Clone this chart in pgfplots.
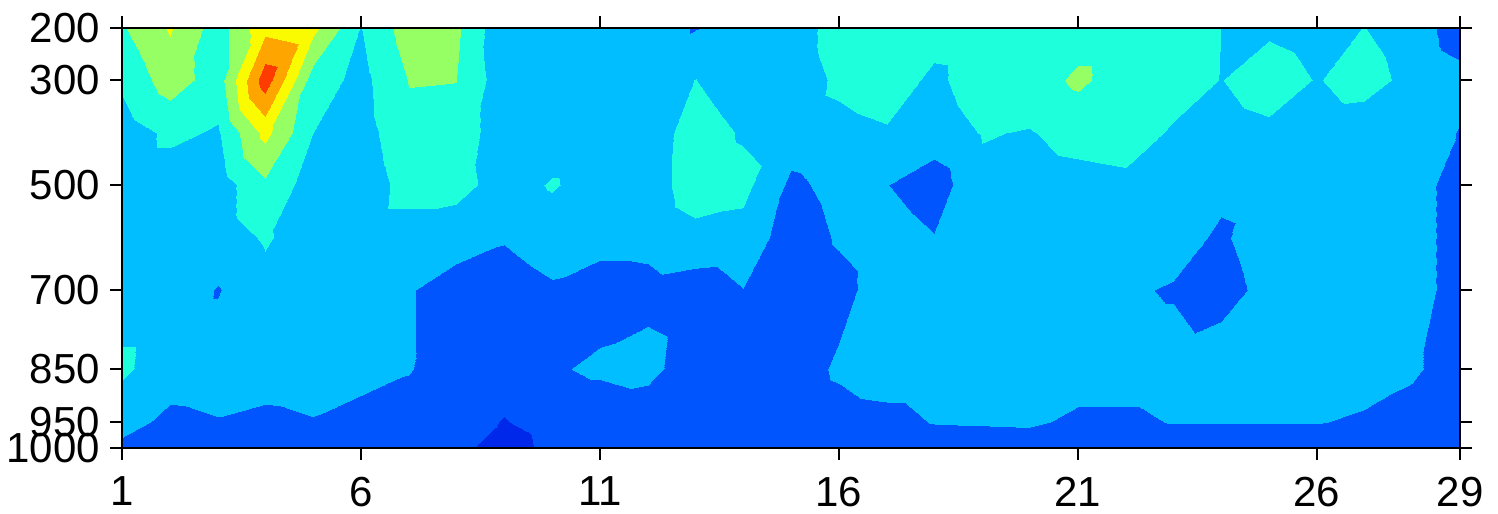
\documentclass[border=0pt]{standalone}
\usepackage{pgfplots}
\pgfplotsset{compat=1.18}
\usepackage{fontspec}
\setmainfont{Liberation Sans}
\pgfplotsset{colormap={cls}{
 rgb255=(0,40,235) rgb255=(0,85,255) rgb255=(0,190,255) rgb255=(30,255,220)
 rgb255=(150,255,100) rgb255=(250,250,0) rgb255=(255,165,0) rgb255=(255,60,0)}}
\begin{document}
\begin{tikzpicture}
\begin{axis}[
  scale only axis, width=669bp, height=210bp,
  xmin=1, xmax=29, ymin=200, ymax=1000, y dir=reverse,
  enlargelimits=false, axis on top,
  xtick={1,6,11,16,21,26,29}, xticklabels={1,6,11,16,21,26,29},
  ytick={200,300,500,700,850,950,1000}, yticklabels={200,300,500,700,850,950,1000},
  tick align=outside, tick pos=both, major tick length=6bp,
  every tick/.style={black, line width=1bp},
  axis line style={line width=1bp},
  tick label style={font=\fontsize{21bp}{25bp}\selectfont},
  xticklabel shift=5bp, yticklabel shift=1.5bp,
  colormap name=cls, colormap access=piecewise constant,
  point meta min=0, point meta max=8,
]
\addplot[surf, shader=interp, mesh/cols=29, point meta=explicit] coordinates {
(1,200)[3.9] (2,200)[5.1] (3,200)[3.5] (4,200)[5.7] (5,200)[5.3] (6,200)[2.98] (7,200)[4.5] (8,200)[4.2] (9,200)[2.2] (10,200)[2.4] (11,200)[2.4] (12,200)[2.4] (13,200)[1.95] (14,200)[2.4] (15,200)[2.4] (16,200)[3.5] (17,200)[3.6] (18,200)[3.4] (19,200)[3.5] (20,200)[3.5] (21,200)[3.5] (22,200)[3.5] (23,200)[3.4] (24,200)[3.0] (25,200)[2.85] (26,200)[2.6] (27,200)[3.02] (28,200)[2.5] (29,200)[1.5]
(1,300)[3.2] (2,300)[4.5] (3,300)[3.5] (4,300)[7.6] (5,300)[3.5] (6,300)[2.7] (7,300)[4.05] (8,300)[4.02] (9,300)[2.4] (10,300)[2.4] (11,300)[2.4] (12,300)[2.4] (13,300)[3.02] (14,300)[2.4] (15,300)[2.4] (16,300)[3.2] (17,300)[3.5] (18,300)[2.8] (19,300)[3.5] (20,300)[3.5] (21,300)[4.2] (22,300)[3.5] (23,300)[3.4] (24,300)[2.98] (25,300)[3.45] (26,300)[2.95] (27,300)[3.4] (28,300)[2.7] (29,300)[2.3]
(1,400)[2.5] (2,400)[3.2] (3,400)[2.9] (4,400)[5.3] (5,400)[3.0] (6,400)[2.6] (7,400)[3.7] (8,400)[3.6] (9,400)[2.4] (10,400)[2.4] (11,400)[2.4] (12,400)[2.4] (13,400)[3.5] (14,400)[2.9] (15,400)[2.5] (16,400)[2.7] (17,400)[2.9] (18,400)[2.5] (19,400)[3.05] (20,400)[2.95] (21,400)[3.3] (22,400)[3.4] (23,400)[2.9] (24,400)[2.6] (25,400)[2.8] (26,400)[2.5] (27,400)[2.4] (28,400)[2.5] (29,400)[1.95]
(1,500)[2.5] (2,500)[2.5] (3,500)[2.5] (4,500)[3.8] (5,500)[2.5] (6,500)[2.4] (7,500)[3.4] (8,500)[3.4] (9,500)[2.5] (10,500)[3.1] (11,500)[2.5] (12,500)[2.5] (13,500)[3.5] (14,500)[3.3] (15,500)[1.8] (16,500)[2.3] (17,500)[2.02] (18,500)[1.5] (19,500)[2.8] (20,500)[2.6] (21,500)[2.7] (22,500)[2.8] (23,500)[2.6] (24,500)[2.3] (25,500)[2.5] (26,500)[2.5] (27,500)[2.5] (28,500)[2.5] (29,500)[1.5]
(1,600)[2.5] (2,600)[2.5] (3,600)[2.5] (4,600)[3.1] (5,600)[2.5] (6,600)[2.5] (7,600)[2.5] (8,600)[2.3] (9,600)[2.06] (10,600)[2.4] (11,600)[2.3] (12,600)[2.3] (13,600)[2.7] (14,600)[2.6] (15,600)[1.5] (16,600)[2.1] (17,600)[2.5] (18,600)[2.05] (19,600)[2.5] (20,600)[2.5] (21,600)[2.5] (22,600)[2.5] (23,600)[2.5] (24,600)[1.8] (25,600)[2.8] (26,600)[2.5] (27,600)[2.5] (28,600)[2.5] (29,600)[1.5]
(1,700)[2.5] (2,700)[2.5] (3,700)[1.95] (4,700)[2.7] (5,700)[2.5] (6,700)[2.5] (7,700)[2.05] (8,700)[1.7] (9,700)[1.6] (10,700)[1.9] (11,700)[1.6] (12,700)[1.7] (13,700)[1.5] (14,700)[1.98] (15,700)[1.4] (16,700)[1.7] (17,700)[2.5] (18,700)[2.5] (19,700)[2.5] (20,700)[2.5] (21,700)[2.5] (22,700)[2.15] (23,700)[1.9] (24,700)[1.4] (25,700)[2.5] (26,700)[2.5] (27,700)[2.5] (28,700)[2.5] (29,700)[1.5]
(1,850)[3.2] (2,850)[2.4] (3,850)[2.45] (4,850)[2.4] (5,850)[2.45] (6,850)[2.3] (7,850)[2.05] (8,850)[1.5] (9,850)[1.4] (10,850)[1.9] (11,850)[2.15] (12,850)[2.35] (13,850)[1.3] (14,850)[1.4] (15,850)[1.5] (16,850)[2.15] (17,850)[2.5] (18,850)[2.5] (19,850)[2.5] (20,850)[2.5] (21,850)[2.5] (22,850)[2.5] (23,850)[2.5] (24,850)[2.9] (25,850)[2.5] (26,850)[2.5] (27,850)[2.5] (28,850)[2.15] (29,850)[1.5]
(1,950)[2.3] (2,950)[1.8] (3,950)[1.95] (4,950)[1.8] (5,950)[1.95] (6,950)[1.7] (7,950)[1.6] (8,950)[1.4] (9,950)[0.95] (10,950)[1.4] (11,950)[1.4] (12,950)[1.2] (13,950)[1.4] (14,950)[1.3] (15,950)[1.4] (16,950)[1.6] (17,950)[1.7] (18,950)[2.05] (19,950)[2.1] (20,950)[2.15] (21,950)[1.8] (22,950)[1.8] (23,950)[2.05] (24,950)[2.05] (25,950)[2.05] (26,950)[2.05] (27,950)[1.85] (28,950)[1.6] (29,950)[1.4]
(1,1000)[1.8] (2,1000)[1.4] (3,1000)[1.4] (4,1000)[1.4] (5,1000)[1.4] (6,1000)[1.4] (7,1000)[1.4] (8,1000)[1.3] (9,1000)[0.5] (10,1000)[1.3] (11,1000)[1.4] (12,1000)[1.4] (13,1000)[1.4] (14,1000)[1.4] (15,1000)[1.4] (16,1000)[1.4] (17,1000)[1.4] (18,1000)[1.4] (19,1000)[1.4] (20,1000)[1.4] (21,1000)[1.4] (22,1000)[1.4] (23,1000)[1.4] (24,1000)[1.4] (25,1000)[1.4] (26,1000)[1.4] (27,1000)[1.4] (28,1000)[1.4] (29,1000)[1.4]
};
\end{axis}
\pgfresetboundingbox
\path ([shift={(-61bp,-33bp)}]current axis.south west) rectangle ([shift={(19bp,14bp)}]current axis.north east);
\end{tikzpicture}
\end{document}
